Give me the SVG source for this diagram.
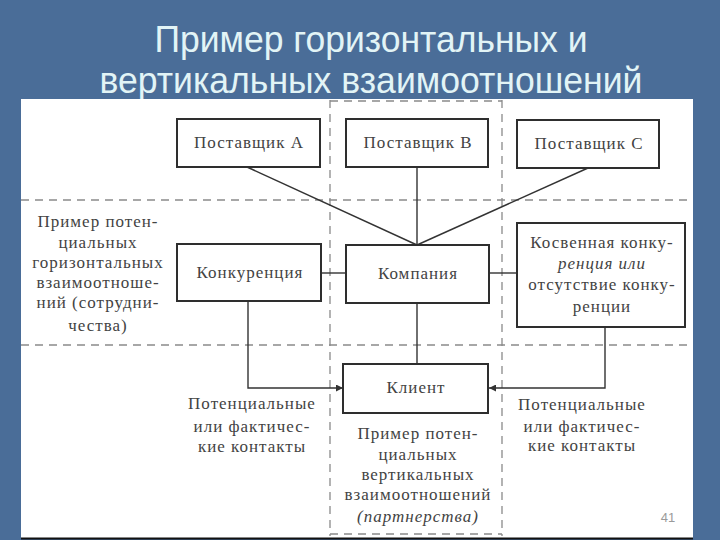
<svg xmlns="http://www.w3.org/2000/svg" width="720" height="540" viewBox="0 0 720 540">
<defs>
<style>
.title{font-family:"Liberation Sans","DejaVu Sans",sans-serif;font-size:36px;fill:#e2f4f6;text-anchor:middle}
.box{fill:#ffffff;stroke:#2e2e2e;stroke-width:2}
.lbl{font-family:"Liberation Serif","DejaVu Serif",serif;font-size:17px;fill:#434343;text-anchor:middle;letter-spacing:1px}
.it{font-style:italic}
.dash{stroke:#8a8a8a;stroke-width:1.3;stroke-dasharray:8 6;fill:none}
.con{stroke:#333;stroke-width:1.4;fill:none}
</style>
<marker id="arr" viewBox="0 0 10 10" refX="10" refY="5" markerWidth="9" markerHeight="7" markerUnits="userSpaceOnUse" orient="auto">
<path d="M0,0 L10,5 L0,10 z" fill="#333"/>
</marker>
</defs>
<rect x="0" y="0" width="720" height="540" fill="#4a6d98"/>
<text class="title" x="371" y="52" textLength="433" lengthAdjust="spacingAndGlyphs">Пример горизонтальных и</text>
<text class="title" x="371" y="93" textLength="543" lengthAdjust="spacingAndGlyphs">вертикальных взаимоотношений</text>
<rect x="21" y="99" width="672" height="439" fill="#ffffff"/>
<line x1="21" y1="538.5" x2="693" y2="538.5" stroke="#111" stroke-width="2"/>
<g id="grid">
<line class="dash" x1="21" y1="200" x2="693" y2="200"/>
<line class="dash" x1="21" y1="345" x2="693" y2="345"/>
<line class="dash" x1="330" y1="100" x2="330" y2="536"/>
<line class="dash" x1="502" y1="100" x2="502" y2="536"/>
<line class="dash" x1="330" y1="101" x2="502" y2="101"/>
<line class="dash" x1="330" y1="534" x2="502" y2="534"/>
</g>
<g id="connectors">
<line class="con" x1="247" y1="167" x2="417" y2="245"/>
<line class="con" x1="417" y1="167" x2="417" y2="245"/>
<line class="con" x1="588" y1="168" x2="417" y2="245"/>
<line class="con" x1="321" y1="273" x2="346" y2="273"/>
<line class="con" x1="489" y1="273" x2="517" y2="273"/>
<line class="con" x1="417" y1="303" x2="417" y2="364"/>
<polyline class="con" points="248,301 248,388 343,388" marker-end="url(#arr)"/>
<polyline class="con" points="605,327 605,388 489,388" marker-end="url(#arr)"/>
</g>
<g id="supplierA">
<rect class="box" x="177" y="119" width="143" height="48"/>
<text class="lbl" x="249" y="148">Поставщик А</text>
</g>
<g id="supplierB">
<rect class="box" x="346" y="119" width="142" height="48"/>
<text class="lbl" x="418" y="148">Поставщик В</text>
</g>
<g id="supplierC">
<rect class="box" x="517" y="120" width="142" height="48"/>
<text class="lbl" x="589" y="149">Поставщик С</text>
</g>
<g id="competition">
<rect class="box" x="177" y="244" width="144" height="57"/>
<text class="lbl" x="250" y="278">Конкуренция</text>
</g>
<g id="company">
<rect class="box" x="346" y="245" width="143" height="58"/>
<text class="lbl" x="418" y="279">Компания</text>
</g>
<g id="indirect">
<rect class="box" x="517" y="223" width="168" height="104"/>
<text class="lbl" x="602" y="248">Косвенная конку-</text>
<text class="lbl it" x="602" y="269">ренция или</text>
<text class="lbl" x="602" y="290">отсутствие конку-</text>
<text class="lbl" x="602" y="312">ренции</text>
</g>
<g id="client">
<rect class="box" x="343" y="364" width="145" height="49"/>
<text class="lbl" x="416" y="393">Клиент</text>
</g>
<g id="horizontal-note">
<text class="lbl" x="98" y="227">Пример потен-</text>
<text class="lbl" x="98" y="248">циальных</text>
<text class="lbl" x="98" y="268">горизонтальных</text>
<text class="lbl" x="98" y="288">взаимоотноше-</text>
<text class="lbl" x="98" y="308">ний (сотрудни-</text>
<text class="lbl" x="98" y="331">чества)</text>
</g>
<g id="contacts-left">
<text class="lbl" x="252" y="409">Потенциальные</text>
<text class="lbl" x="252" y="432">или фактичес-</text>
<text class="lbl" x="252" y="452">кие контакты</text>
</g>
<g id="contacts-right">
<text class="lbl" x="582" y="410">Потенциальные</text>
<text class="lbl" x="582" y="432">или фактичес-</text>
<text class="lbl" x="582" y="451">кие контакты</text>
</g>
<g id="vertical-note">
<text class="lbl" x="418" y="439">Пример потен-</text>
<text class="lbl" x="418" y="460">циальных</text>
<text class="lbl" x="418" y="480">вертикальных</text>
<text class="lbl" x="418" y="500">взаимоотношений</text>
<text class="lbl it" x="418" y="522">(партнерства)</text>
</g>
<text x="668" y="522" font-family="Liberation Sans, sans-serif" font-size="13" fill="#9a9a9a" text-anchor="middle">41</text>
</svg>
